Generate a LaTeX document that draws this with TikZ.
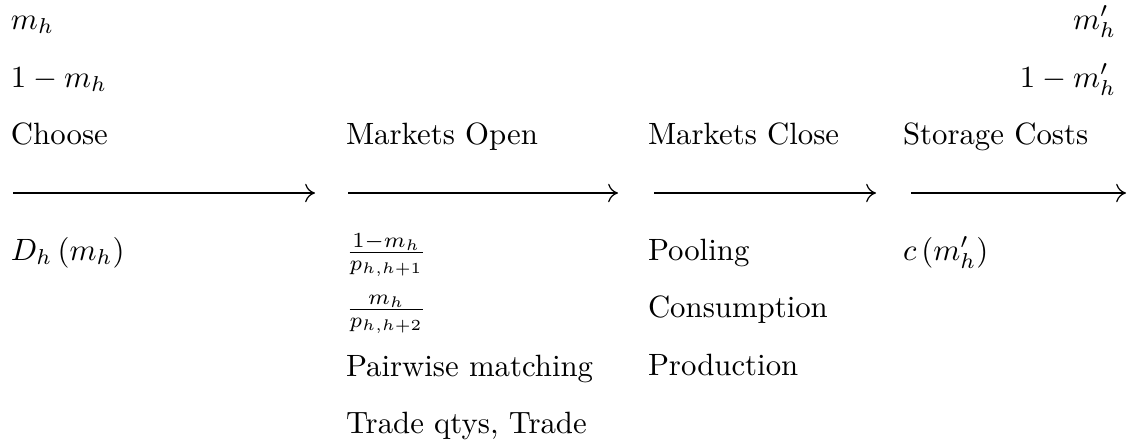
\documentclass[tikz,border=0pt]{standalone}
\usetikzlibrary{arrows.meta}
\begin{document}
\begin{tikzpicture}[x=0.3247pt,y=-0.3247pt,
  lbl/.style={anchor=base west,inner sep=0pt,outer sep=0pt},
  rlbl/.style={anchor=base east,inner sep=0pt,outer sep=0pt},
  tline/.style={line width=0.4pt,-{To[length=3.2pt,width=6pt]}}]
\useasboundingbox (0,0) rectangle (1127,443);
% top left
\node[lbl] (mh) at (11,29) {$m_{h}$};
\node[lbl] (omh) at (11,87) {$1-m_{h}$};
% top right
\node[rlbl] (mhp) at (1116,29) {$m_{h}^{\prime}$};
\node[rlbl] (omhp) at (1116,87) {$1-m_{h}^{\prime}$};
% phase titles
\node[lbl] (choose) at (11,144) {Choose};
\node[lbl] (mopen) at (346,144) {Markets Open};
\node[lbl] (mclose) at (648,144) {Markets Close};
\node[lbl] (storage) at (903,144) {Storage Costs};
% timeline arrows
\coordinate (a1s) at (13,193);  \coordinate (a1e) at (315,193);
\coordinate (a2s) at (348,193); \coordinate (a2e) at (618,193);
\coordinate (a3s) at (654,193); \coordinate (a3e) at (876,193);
\coordinate (a4s) at (911,193); \coordinate (a4e) at (1126,193);
\draw[tline] (a1s) -- (a1e);
\draw[tline] (a2s) -- (a2e);
\draw[tline] (a3s) -- (a3e);
\draw[tline] (a4s) -- (a4e);
% column 1
\node[lbl] (dh) at (11,260) {$D_{h}\left( m_{h}\right)$};
% column 2
\node[lbl] (f1) at (346,260) {$\frac{1-m_{h}}{p_{h,h+1}}$};
\node[lbl] (f2) at (346,317) {$\frac{m_{h}}{p_{h,h+2}}$};
\node[lbl] (pair) at (346,376) {Pairwise matching};
\node[lbl] (trade) at (346,433) {Trade qtys, Trade};
% column 3
\node[lbl] (pool) at (648,260) {Pooling};
\node[lbl] (cons) at (648,317) {Consumption};
\node[lbl] (prod) at (648,375) {Production};
% column 4
\node[lbl] (cost) at (903,260) {$c\left( m_{h}^{\prime}\right)$};
\end{tikzpicture}
\end{document}
